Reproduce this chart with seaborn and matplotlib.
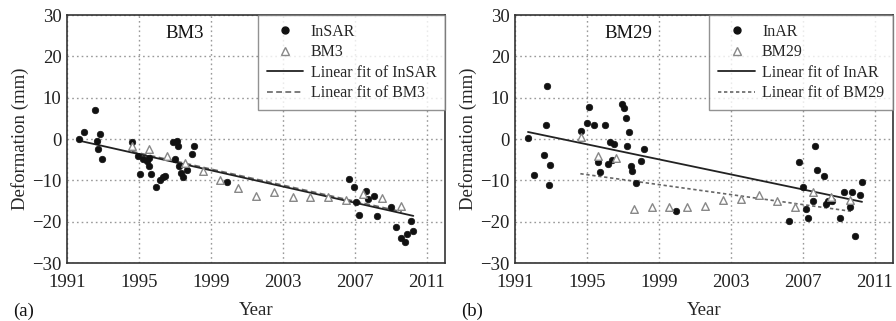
import numpy as np
import pandas as pd
import matplotlib
matplotlib.use("Agg")
import matplotlib.pyplot as plt
import seaborn as sns
from matplotlib.lines import Line2D

# ---------------- data ----------------
# Panel (a) BM3
a_insar_year = [1991.67, 1991.96, 1992.54, 1992.65, 1992.70, 1992.83, 1992.93,
                1994.60, 1994.93, 1995.06, 1995.24, 1995.43, 1995.56, 1995.57,
                1995.65, 1995.93, 1996.17, 1996.35, 1996.44, 1996.90, 1997.09,
                1997.19, 1997.00, 1997.24, 1997.33, 1997.43, 1997.69, 1997.93,
                1998.07, 1999.87, 2006.69, 2006.96, 2007.06, 2007.22, 2007.59,
                2007.70, 2008.07, 2008.20, 2009.00, 2009.26, 2009.56, 2009.78,
                2009.87, 2010.10, 2010.24]
a_insar_def = [0.0, 1.7, 7.0, -0.4, -2.3, 1.2, -4.8,
               -0.8, -4.1, -8.4, -4.9, -5.4, -4.6, -6.6,
               -8.4, -11.7, -9.9, -9.1, -8.9, -0.8, -0.6,
               -1.8, -4.9, -6.5, -8.2, -9.1, -7.4, -3.6,
               -1.6, -10.5, -9.6, -11.5, -15.3, -18.3, -12.5,
               -14.4, -13.7, -18.7, -16.5, -21.4, -23.9, -25.0,
               -23.1, -19.9, -22.2]
a_bm_year = [1994.60, 1995.56, 1996.57, 1997.56, 1998.54, 1999.50, 2000.48,
             2001.50, 2002.50, 2003.54, 2004.50, 2005.52, 2006.48, 2007.46,
             2008.52, 2009.56]
a_bm_def = [-1.6, -2.4, -4.2, -5.8, -7.7, -9.9, -11.9,
            -13.7, -12.8, -14.0, -14.0, -14.0, -14.7, -13.3,
            -14.3, -16.3]
a_fit_insar_year = [1991.67, 2010.24]
a_fit_insar_def = [-0.4, -18.6]
a_fit_bm_year = [1994.60, 2009.60]
a_fit_bm_def = [-3.0, -17.6]

# Panel (b) BM29
b_insar_year = [1991.72, 1992.04, 1992.59, 1992.70, 1992.78, 1992.89, 1992.96,
                1994.65, 1995.00, 1995.11, 1995.37, 1995.61, 1995.70, 1996.02,
                1996.17, 1996.30, 1996.41, 1996.48, 1996.96, 1997.06, 1997.15,
                1997.24, 1997.33, 1997.43, 1997.52, 1997.74, 1998.02, 1998.15,
                1999.93, 2006.22, 2006.78, 2007.00, 2007.15, 2007.28, 2007.56,
                2007.65, 2007.78, 2008.15, 2008.26, 2008.39, 2008.63, 2009.04,
                2009.26, 2009.63, 2009.74, 2009.87, 2010.15, 2010.28]
b_insar_def = [0.2, -8.8, -3.8, 3.4, 12.9, -11.2, -6.4,
               2.0, 3.8, 7.7, 3.4, -5.6, -8.0, 3.4,
               -6.1, -0.8, -5.0, -1.2, 8.5, 7.5, 5.2,
               -1.8, 1.7, -6.5, -7.7, -10.7, -5.4, -2.4,
               -17.3, -19.9, -5.6, -11.5, -16.9, -19.1, -14.9,
               -1.6, -7.4, -8.9, -15.7, -15.1, -14.9, -19.1,
               -12.8, -16.5, -12.8, -23.5, -13.5, -10.5]
b_bm_year = [1994.65, 1995.61, 1996.63, 1997.59, 1998.61, 1999.56, 2000.57,
             2001.57, 2002.56, 2003.54, 2004.56, 2005.56, 2006.54, 2007.56,
             2008.57, 2009.59]
b_bm_def = [0.4, -4.0, -4.6, -16.9, -16.5, -16.5, -16.5,
            -16.1, -14.7, -14.4, -13.6, -14.9, -16.5, -12.8,
            -14.0, -14.7]
b_fit_insar_year = [1991.72, 2010.28]
b_fit_insar_def = [1.7, -15.2]
b_fit_bm_year = [1994.63, 2009.69]
b_fit_bm_def = [-8.4, -17.5]

x_ticks = [1991, 1995, 1999, 2003, 2007, 2011]
y_ticks = [-30, -20, -10, 0, 10, 20, 30]

panels = [
    dict(tag="(a)", title="BM3", ins_lab="InSAR", bm_lab="BM3",
         iy=a_insar_year, iv=a_insar_def, by=a_bm_year, bv=a_bm_def,
         fiy=a_fit_insar_year, fiv=a_fit_insar_def, fby=a_fit_bm_year, fbv=a_fit_bm_def,
         dash=(3.5, 2.0), title_x=0.312),
    dict(tag="(b)", title="BM29", ins_lab="InAR", bm_lab="BM29",
         iy=b_insar_year, iv=b_insar_def, by=b_bm_year, bv=b_bm_def,
         fiy=b_fit_insar_year, fiv=b_fit_insar_def, fby=b_fit_bm_year, fbv=b_fit_bm_def,
         dash=(2.0, 1.6), title_x=0.30),
]

# ---------------- style ----------------
sns.set_theme(style="white")
plt.rcParams['font.family'] = ['Liberation Serif', 'DejaVu Serif']

fig = plt.figure(figsize=(8.96, 3.21), dpi=100)
lefts = [67 / 896, 515 / 896]
w = 378 / 896
bottom = 1 - 263 / 321
h = 248 / 321

for p, left in zip(panels, lefts):
    ax = fig.add_axes([left, bottom, w, h])
    df_i = pd.DataFrame({"Year": p["iy"], "Def": p["iv"]})
    df_b = pd.DataFrame({"Year": p["by"], "Def": p["bv"]})
    df_fi = pd.DataFrame({"Year": p["fiy"], "Def": p["fiv"]})
    df_fb = pd.DataFrame({"Year": p["fby"], "Def": p["fbv"]})

    sns.lineplot(data=df_fb, x="Year", y="Def", ax=ax, color="#666666",
                 lw=1.2, zorder=2)
    ax.lines[-1].set_dashes(p["dash"])
    sns.lineplot(data=df_fi, x="Year", y="Def", ax=ax, color="#222222",
                 lw=1.3, zorder=2)
    sns.scatterplot(data=df_i, x="Year", y="Def", ax=ax, color="#111111",
                    s=22, edgecolor="#111111", linewidth=0.5, zorder=3)
    sns.scatterplot(data=df_b, x="Year", y="Def", ax=ax, marker="^",
                    facecolor="white", edgecolor="#888888", linewidth=1.0,
                    s=30, zorder=4)

    ax.set_xlim(1991, 2012)
    ax.set_ylim(-30, 30)
    ax.set_xticks(x_ticks)
    ax.set_yticks(y_ticks)
    ax.set_yticklabels([("\u2212%d" % -v) if v < 0 else "%d" % v for v in y_ticks])
    ax.tick_params(direction="in", length=4, width=1, labelsize=13.5,
                   colors="#222222")
    ax.tick_params(axis="x", pad=8)
    ax.tick_params(axis="y", pad=4)
    ax.grid(True, color="#999999", linestyle=(0, (1.2, 2.2)), linewidth=1.0)
    for s in ax.spines.values():
        s.set_color("#333333")
        s.set_linewidth(1.2)
    ax.set_xlabel("Year", fontsize=13.5, labelpad=8)
    ax.set_ylabel("Deformation (mm)", fontsize=13.5, labelpad=2)
    ax.text(p["title_x"], 0.925, p["title"], transform=ax.transAxes,
            ha="center", va="center", fontsize=13.5, color="#111111")

    handles = [
        Line2D([], [], marker="o", ls="none", color="#111111", markersize=5.0),
        Line2D([], [], marker="^", ls="none", markerfacecolor="white",
               markeredgecolor="#888888", markersize=6.0),
        Line2D([], [], color="#222222", lw=1.3),
        Line2D([], [], color="#666666", lw=1.2, dashes=p["dash"]),
    ]
    labels = [p["ins_lab"], p["bm_lab"], "Linear fit of " + p["ins_lab"],
              "Linear fit of " + p["bm_lab"]]
    leg = ax.legend(handles, labels, loc="upper right", fontsize=11.5,
                    frameon=True, fancybox=False, borderaxespad=0.0,
                    handlelength=2.3, handletextpad=0.45, labelspacing=0.28,
                    borderpad=0.55)
    leg.get_frame().set_edgecolor("#777777")
    leg.get_frame().set_linewidth(1.0)
    fig.text(left - 54 / 896, 1 - 311 / 321, p["tag"], ha="left", va="center",
             fontsize=13.5, color="#111111")

fig.savefig("out.png", dpi=100)
